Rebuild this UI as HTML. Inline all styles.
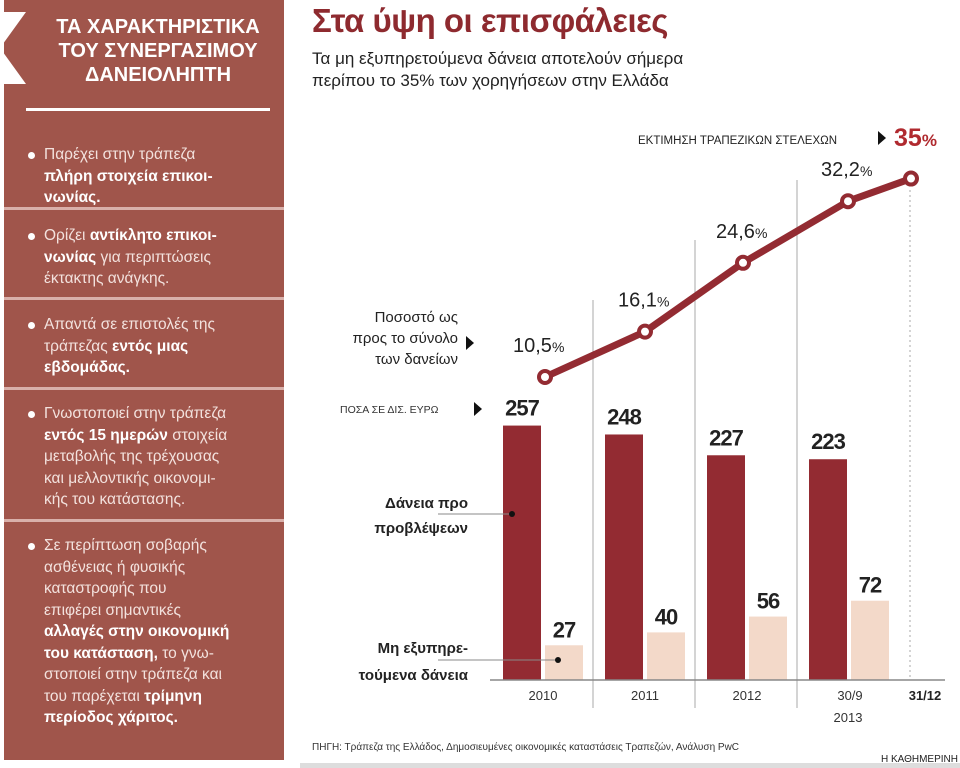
<!DOCTYPE html>
<html><head><meta charset="utf-8">
<style>
body{margin:0;width:960px;height:768px;background:#fff;overflow:hidden;position:relative;font-family:"Liberation Sans","DejaVu Sans",sans-serif}
#panel{position:absolute;left:4px;top:0;width:280px;height:760px;background:#a0554b}
.sep{position:absolute;left:0;width:280px;height:3px;background:#d9b0aa}
.item{position:absolute;left:40px;width:240px;color:#f3e2de;font-size:15.5px;line-height:21.5px;white-space:nowrap}
.item b{color:#fff}
.dot{position:absolute;left:-16px;top:8px;width:7px;height:7px;border-radius:50%;background:#fff}
.abs{position:absolute;white-space:nowrap}
</style></head><body>
<div id="panel">
  <div style="position:absolute;left:36px;top:15px;color:#fff;font-weight:bold;font-size:20px;line-height:24px;text-align:center;width:236px">ΤΑ ΧΑΡΑΚΤΗΡΙΣΤΙΚΑ<br>ΤΟΥ ΣΥΝΕΡΓΑΣΙΜΟΥ<br>ΔΑΝΕΙΟΛΗΠΤΗ</div>
  <div style="position:absolute;left:22px;top:108px;width:244px;height:3px;background:#fff"></div>
  <div style="position:absolute;left:-4px;top:12px;width:0;height:0;border-top:36px solid #fff;border-bottom:36px solid #fff;border-right:26px solid transparent;border-left:0"></div>
  <div class="item" style="top:144px"><span class="dot"></span>Παρέχει στην τράπεζα<br><b>πλήρη στοιχεία επικοι-<br>νωνίας.</b></div>
  <div class="sep" style="top:207px"></div>
  <div class="item" style="top:225px"><span class="dot"></span>Ορίζει <b>αντίκλητο επικοι-<br>νωνίας</b> για περιπτώσεις<br>έκτακτης ανάγκης.</div>
  <div class="sep" style="top:297px"></div>
  <div class="item" style="top:314px"><span class="dot"></span>Απαντά σε επιστολές της<br>τράπεζας <b>εντός μιας<br>εβδομάδας.</b></div>
  <div class="sep" style="top:387px"></div>
  <div class="item" style="top:403px"><span class="dot"></span>Γνωστοποιεί στην τράπεζα<br><b>εντός 15 ημερών</b> στοιχεία<br>μεταβολής της τρέχουσας<br>και μελλοντικής οικονομι-<br>κής του κατάστασης.</div>
  <div class="sep" style="top:519px"></div>
  <div class="item" style="top:535px"><span class="dot"></span>Σε περίπτωση σοβαρής<br>ασθένειας ή φυσικής<br>καταστροφής που<br>επιφέρει σημαντικές<br><b>αλλαγές στην οικονομική<br>του κατάσταση,</b> το γνω-<br>στοποιεί στην τράπεζα και<br>του παρέχεται <b>τρίμηνη<br>περίοδος χάριτος.</b></div>
</div>
<div class="abs" style="left:312px;top:2px;font-size:33px;font-weight:bold;color:#8e2a2f;letter-spacing:-0.5px">Στα ύψη οι επισφάλειες</div>
<div class="abs" style="left:312px;top:48px;font-size:17px;line-height:22px;color:#222">Τα μη εξυπηρετούμενα δάνεια αποτελούν σήμερα<br>περίπου το 35% των χορηγήσεων στην Ελλάδα</div>
<svg id="chart" width="960" height="768" style="position:absolute;left:0;top:0"></svg>
<script>
const categories=["2010","2011","2012","2013"];
const provisionLoans=[257,248,227,223];
const nplLoans=[27,40,56,72];
const pctLabels=["10,5","16,1","24,6","32,2","35"];
const pctValues=[10.5,16.1,24.6,32.2,35];
const NS="http://www.w3.org/2000/svg";
const svg=document.getElementById('chart');
const baseY=680;
const yBar=v=>baseY-v*0.99;
const groupX=i=>503+i*102;
const yPct=v=>377-(v-10.5)*8.1;
function mk(t,a){const e=document.createElementNS(NS,t);for(const k in a)e.setAttribute(k,a[k]);svg.appendChild(e);return e;}
function txt(x,y,s,a){const e=mk('text',Object.assign({x:x,y:y,'font-family':'Liberation Sans, sans-serif'},a));e.textContent=s;return e;}
[593,695,797].forEach((x,i)=>{const l=mk('line',{x1:x,y1:300-(i*60),x2:x,y2:708,stroke:'#aaa','stroke-width':1});

});
const d=mk('line',{x1:910,y1:190,x2:910,y2:680,stroke:'#aaa','stroke-dasharray':'2,3'});


categories.forEach((c,i)=>{
 const x=groupX(i);
 const b=mk('rect',{x:x,y:yBar(provisionLoans[i]),width:38,height:baseY-yBar(provisionLoans[i]),fill:'#932b32'});
 
 
 const l=mk('rect',{x:x+42,y:yBar(nplLoans[i])-8,width:38,height:baseY-yBar(nplLoans[i])+8,fill:'#f3d9c9'});
 
 
 const t1=txt(x+19,yBar(provisionLoans[i])-10,String(provisionLoans[i]),{'font-size':22,'font-weight':'bold','text-anchor':'middle',fill:'#222','letter-spacing':'-1'});
 
 
 const t2=txt(x+61,yBar(nplLoans[i])-16,String(nplLoans[i]),{'font-size':22,'font-weight':'bold','text-anchor':'middle',fill:'#222','letter-spacing':'-1'});
 
 
});
const ax=mk('line',{x1:490,y1:680,x2:945,y2:680,stroke:'#888','stroke-width':1.5});


[["2010",543],["2011",645],["2012",747],["30/9",850]].forEach(([s,x])=>{const t=txt(x,700,s,{'font-size':13,'text-anchor':'middle',fill:'#333'});

});
const t3=txt(925,700,"31/12",{'font-size':13,'font-weight':'bold','text-anchor':'middle',fill:'#222'});


const t4=txt(848,722,"2013",{'font-size':13,'text-anchor':'middle',fill:'#333'});


const pxs=[545,645,743,848,911];
let p=pctValues.map((v,i)=>pxs[i]+','+yPct(v)).join(' ');
const pl=mk('polyline',{points:p,fill:'none',stroke:'#932b32','stroke-width':7,'stroke-linejoin':'round','stroke-linecap':'round'});


pctValues.forEach((v,i)=>{
 const c=mk('circle',{cx:pxs[i],cy:yPct(v),r:6,fill:'#fff',stroke:'#932b32','stroke-width':4});
 
 
 if(i<4){const t=mk('text',{x:pxs[i]-32+(i==0?0:5),y:yPct(v)-25,'font-family':'Liberation Sans, sans-serif','font-size':20,fill:'#222'});
 t.innerHTML=pctLabels[i]+'<tspan font-size="14">%</tspan>';
 
 }
});
const t5=mk('text',{x:894,y:146,'font-family':'Liberation Sans, sans-serif','font-size':25,'font-weight':'bold',fill:'#b02a2f'});
t5.innerHTML=pctLabels[4]+'<tspan font-size="17">%</tspan>';


const t6=txt(638,144,"ΕΚΤΙΜΗΣΗ ΤΡΑΠΕΖΙΚΩΝ ΣΤΕΛΕΧΩΝ",{'font-size':11.5,fill:'#222'});


mk('polygon',{points:'878,131 878,145 886,138',fill:'#111'});
[["Ποσοστό ως",322],["προς το σύνολο",343],["των δανείων",364]].forEach(([s,y])=>{const t=txt(458,y,s,{'font-size':15,'text-anchor':'end',fill:'#222'});

});
mk('polygon',{points:'466,336 466,350 474,343',fill:'#111'});
const t7=txt(340,413,"ΠΟΣΑ ΣΕ ΔΙΣ. ΕΥΡΩ",{'font-size':10.5,fill:'#333'});


mk('polygon',{points:'474,402 474,416 482,409',fill:'#111'});
[["Δάνεια προ",508],["προβλέψεων",533]].forEach(([s,y])=>{const t=txt(468,y,s,{'font-size':15,'font-weight':'bold','text-anchor':'end',fill:'#222'});

});
mk('line',{x1:438,y1:514,x2:512,y2:514,stroke:'#888'});mk('circle',{cx:512,cy:514,r:3,fill:'#111'});
[["Μη εξυπηρε-",653],["τούμενα δάνεια",680]].forEach(([s,y])=>{const t=txt(468,y,s,{'font-size':15,'font-weight':'bold','text-anchor':'end',fill:'#222'});

});
mk('line',{x1:438,y1:660,x2:558,y2:660,stroke:'#888'});mk('circle',{cx:558,cy:660,r:3,fill:'#111'});
const t8=txt(312,750,"ΠΗΓΗ: Τράπεζα της Ελλάδος, Δημοσιευμένες οικονομικές καταστάσεις Τραπεζών, Ανάλυση PwC",{'font-size':10,fill:'#333'});


mk('rect',{x:300,y:763,width:660,height:5,fill:'#ddd'});
const t9=txt(958,762,"Η ΚΑΘΗΜΕΡΙΝΗ",{'font-size':10,'text-anchor':'end',fill:'#222'});


</script>
</body></html>
